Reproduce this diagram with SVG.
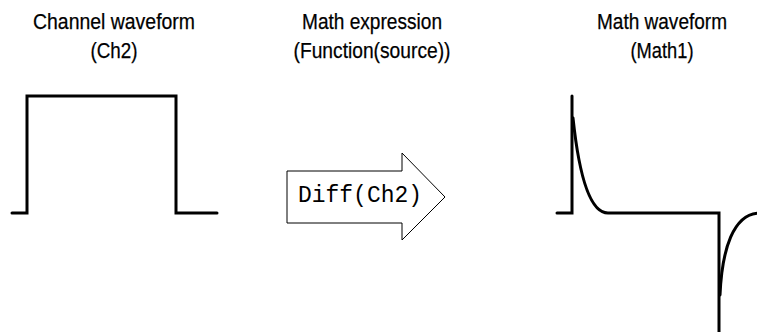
<svg xmlns="http://www.w3.org/2000/svg" width="757" height="332" viewBox="0 0 757 332">
<style>
.t{font-family:"Liberation Sans",Arial,sans-serif;font-size:22px;fill:#000;text-anchor:middle;stroke:#000;stroke-width:0.25}
.w{fill:none;stroke:#000;stroke-width:3;stroke-linecap:round;stroke-linejoin:miter}
.m{font-family:"Liberation Mono","Courier New",monospace;font-size:23px;fill:#000}
</style>
<rect width="757" height="332" fill="#fff"/>
<g id="channel">
<text class="t" x="114" y="29" textLength="162" lengthAdjust="spacingAndGlyphs">Channel waveform</text>
<text class="t" x="114" y="58" textLength="47" lengthAdjust="spacingAndGlyphs">(Ch2)</text>
<path class="w" d="M12,213 H27 V96 H176 V213 H217"/>
</g>
<g id="expression">
<text class="t" x="372" y="29" textLength="140" lengthAdjust="spacingAndGlyphs">Math expression</text>
<text class="t" x="372" y="58" textLength="157" lengthAdjust="spacingAndGlyphs">(Function(source))</text>
</g>
<g id="connectors">
<polygon points="287,171 402,171 402,153 445,197 402,240 402,223 287,223" fill="#fff" stroke="#000" stroke-width="1"/>
<text class="m" x="298" y="202" textLength="124" lengthAdjust="spacingAndGlyphs">Diff(Ch2)</text>
</g>
<g id="math">
<text class="t" x="662" y="29" textLength="130" lengthAdjust="spacingAndGlyphs">Math waveform</text>
<text class="t" x="662" y="58" textLength="63" lengthAdjust="spacingAndGlyphs">(Math1)</text>
<path class="w" d="M557,213 H572 V96"/>
<path class="w" d="M573,118 C579,175 590,213 608,213 H719 V340"/>
<path class="w" d="M720,295 C722,250 733,213 760,213"/>
</g>
</svg>
